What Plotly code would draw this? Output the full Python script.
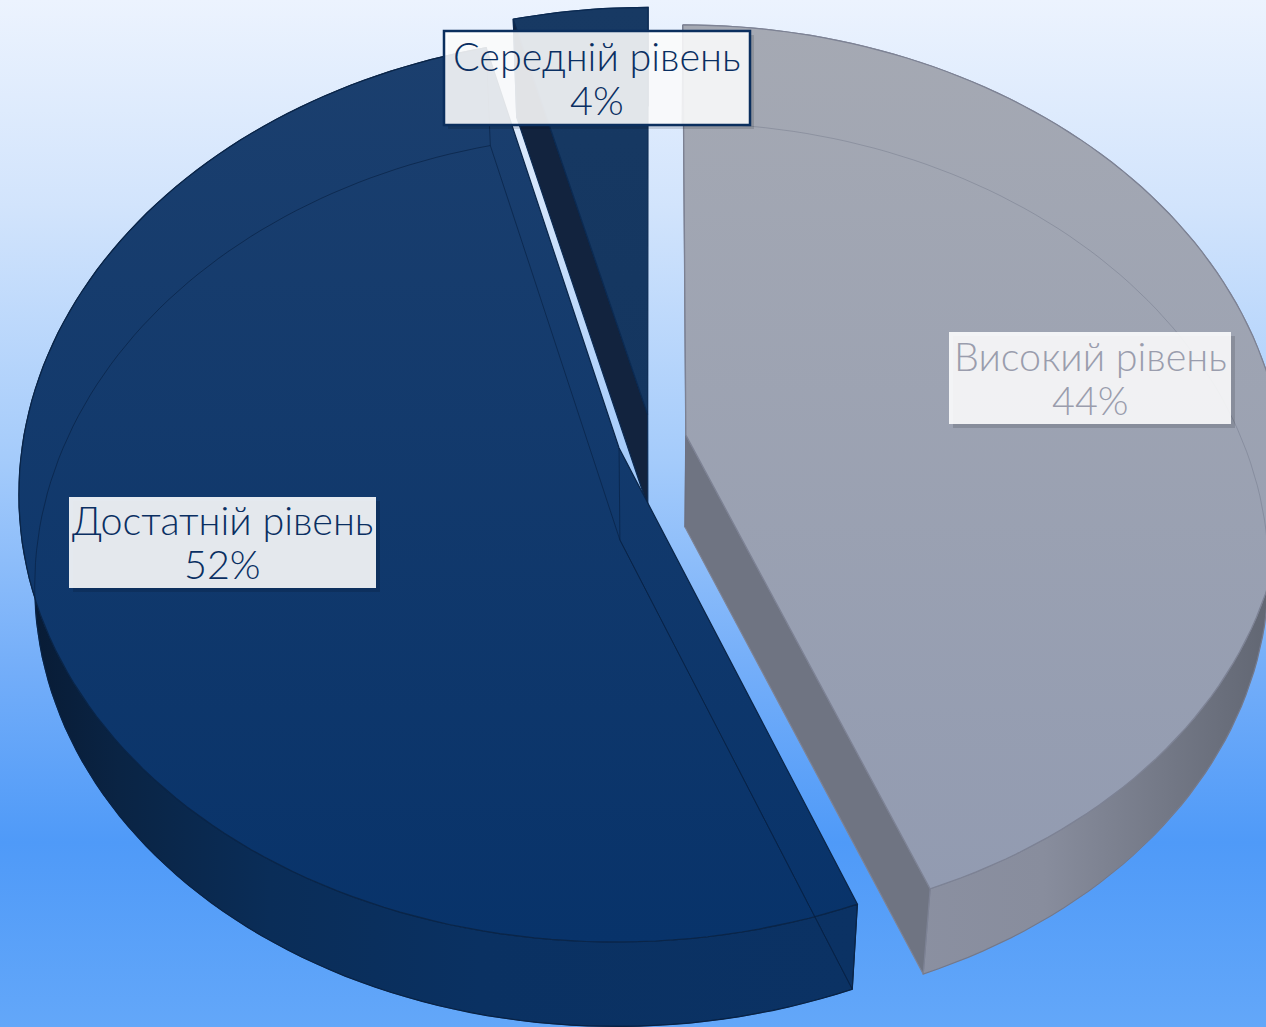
import math
import plotly.graph_objects as go

# ---- data ----
categories = ["Високий рівень", "Достатній рівень", "Середній рівень"]
values = [44, 52, 4]

# ---- styles ----
top_colors = [("#a5a9b3", "#929bb1"), ("#1b3f6e", "#08336a"), ("#173963", "#143660")]
edge_colors = ["#7d8294", "#0a2548", "#0b2a52"]
wall_scales = [
    [[0, "#8f95a8"], [0.6, "#888d9d"], [1, "#5f6470"]],
    [[0, "#081a33"], [0.12, "#0a2444"], [0.3, "#0a2d58"], [0.55, "#0a3162"], [1, "#0b3264"]],
    [[0, "#12243f"], [1, "#12243f"]],
]
radial_wall = ["#6f7482", "#0a3060", "#12233e"]
ghost = ["rgba(90,95,115,0.3)", "rgba(8,32,66,0.65)", "rgba(0,0,0,0)"]
text_colors = ["#9a9dad", "#0a2f62", "#0a2f62"]
bg_scale = [[0, "#ecf3fe"], [0.2, "#d2e4fc"], [0.45, "#a4cbfb"], [0.65, "#74aef9"],
            [0.82, "#4f9af8"], [1, "#63a7f9"]]
boxes = [(949, 332, 1231, 424, "rgba(255,255,255,0.88)", None),
         (69, 497, 376, 588, "rgba(255,255,255,0.89)", None),
         (444, 31, 750, 125, "rgba(255,255,255,0.88)", "#0b2f5e")]

# ---- projection (tilted, exploded pie in pixel axes) ----
CX, CY, FX, FY, KX, KY, EXPLODE = 652, 440, 596, 448, 0.097, 0.09, 0.058
DEPTH, SX_B, SY_B = 92, 0.975, 0.985
N = 240
W, H = 1266, 1027


def project(u, v, bottom=False):
    x, y = FX * u / (1 + KX * v), -FY * v / (1 + KY * v)
    if bottom:
        return CX + x * SX_B, CY + DEPTH + y * SY_B
    return CX + x, CY + y


total = sum(values)
fig = go.Figure()

# background gradient
fig.add_trace(go.Scatter(
    x=[0, W, W, 0, 0], y=[0, 0, H, H, 0], mode="lines", line=dict(width=0), fill="toself",
    fillgradient=dict(type="vertical", colorscale=bg_scale, start=0, stop=H),
    hoverinfo="skip", showlegend=False))

# angles per slice
spans = []
acc = 0
for val in values:
    a0 = acc / total * 2 * math.pi
    acc += val
    a1 = acc / total * 2 * math.pi
    spans.append((a0, a1))


def slice_pts(i, bottom=False):
    a0, a1 = spans[i]
    mid = (a0 + a1) / 2
    ou, ov = EXPLODE * math.sin(mid), EXPLODE * math.cos(mid)
    n = max(12, int(N * (a1 - a0) / (2 * math.pi)))
    arc = []
    for j in range(n + 1):
        a = a0 + (a1 - a0) * j / n
        arc.append(project(ou + math.sin(a), ov + math.cos(a), bottom))
    return project(ou, ov, bottom), arc


def poly(pts, **kw):
    xs = [p[0] for p in pts]
    ys = [p[1] for p in pts]
    fig.add_trace(go.Scatter(x=xs, y=ys, hoverinfo="skip", showlegend=False, **kw))


for i in [2, 0, 1]:
    apex_t, arc_t = slice_pts(i)
    apex_b, arc_b = slice_pts(i, True)
    lw = 1.2
    # outer wall
    wall = arc_t + arc_b[::-1] + [arc_t[0]]
    xmin = min(p[0] for p in wall)
    xmax = max(p[0] for p in wall)
    poly(wall, mode="lines", line=dict(color=edge_colors[i], width=lw), fill="toself",
         fillgradient=dict(type="horizontal", colorscale=wall_scales[i], start=xmin, stop=xmax))
    # radial walls
    if i == 0:
        pts = [apex_t, arc_t[-1], arc_b[-1], apex_b, apex_t]
        poly(pts, mode="lines", line=dict(color=edge_colors[i], width=lw), fill="toself",
             fillcolor=radial_wall[i])
        poly([arc_t[0], apex_t, apex_b], mode="lines", line=dict(color="#6c7080", width=1.5))
    if i == 2:
        pts = [apex_t, arc_t[0], arc_b[0], apex_b, apex_t]
        poly(pts, mode="lines", line=dict(color=edge_colors[i], width=lw), fill="toself",
             fillcolor=radial_wall[i])
    # top surface
    pts = [apex_t] + arc_t + [apex_t]
    ymin = min(p[1] for p in pts)
    ymax = max(p[1] for p in pts)
    poly(pts, mode="lines", line=dict(color=edge_colors[i], width=lw), fill="toself",
         fillgradient=dict(type="vertical", start=ymin, stop=ymax,
                           colorscale=[[0, top_colors[i][0]], [1, top_colors[i][1]]]))
    # lower-face outline showing through the translucent surface
    if i == 1:
        poly([apex_t, apex_b, arc_b[0]], mode="lines", line=dict(color=ghost[i], width=1))
        poly([apex_b] + arc_b + [apex_b], mode="lines", line=dict(color=ghost[i], width=1))
        poly([arc_t[-1], arc_b[-1]], mode="lines", line=dict(color=ghost[i], width=1))
        poly([arc_t[0], arc_b[0]], mode="lines", line=dict(color=edge_colors[i], width=1))
    if i == 0:
        poly(arc_b, mode="lines", line=dict(color=ghost[i], width=1))

shapes = []
for (x0, y0, x1, y1, fill, border) in boxes:
    shapes.append(dict(type="rect", xref="x", yref="y", x0=x0 + 4, y0=y0 + 4, x1=x1 + 4, y1=y1 + 4,
                       fillcolor="rgba(0,0,0,0.13)", line=dict(width=0), layer="above"))
for (x0, y0, x1, y1, fill, border) in boxes:
    shapes.append(dict(type="rect", xref="x", yref="y", x0=x0, y0=y0, x1=x1, y1=y1,
                       fillcolor=fill, layer="above",
                       line=dict(color=border, width=2.5) if border else dict(width=0)))

annotations = []
for i, (x0, y0, x1, y1, fill, border) in enumerate(boxes):
    xc, yc = (x0 + x1) / 2, (y0 + y1) / 2
    for text, dy in ((categories[i], -23), (f"{values[i]}%", 21)):
        annotations.append(dict(
            x=xc, y=yc + dy, xref="x", yref="y", showarrow=False, text=text, yanchor="middle",
            font=dict(family="Lato", size=39.5, color=text_colors[i], weight=300)))

fig.update_layout(
    width=W, height=H, autosize=False, margin=dict(l=0, r=0, t=0, b=0),
    paper_bgcolor="#ecf3fe", plot_bgcolor="rgba(0,0,0,0)", showlegend=False,
    xaxis=dict(range=[0, W], visible=False, fixedrange=True),
    yaxis=dict(range=[H, 0], visible=False, fixedrange=True),
    shapes=shapes, annotations=annotations,
)
fig.write_html("out.html", config=dict(displayModeBar=False),
               post_script="document.body.style.margin='0';document.body.style.overflow='hidden';")
